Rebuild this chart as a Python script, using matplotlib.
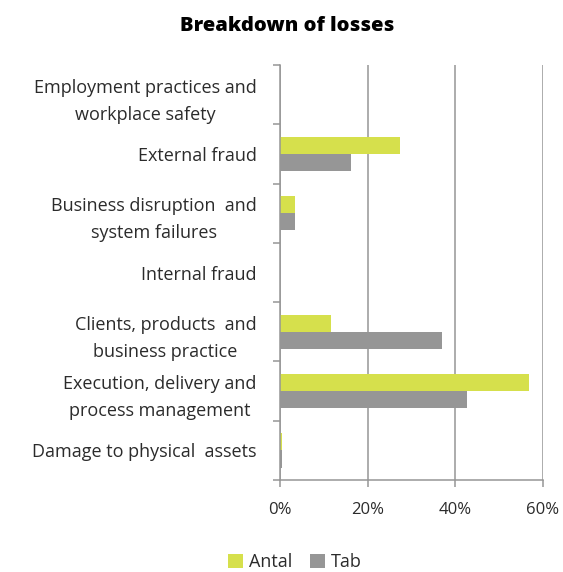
import matplotlib
matplotlib.use("Agg")
import matplotlib.pyplot as plt
import numpy as np
from matplotlib.ticker import FuncFormatter, FixedLocator, NullFormatter

# data
categories = [
    "Employment practices and\nworkplace safety",
    "External fraud",
    "Business disruption  and\nsystem failures",
    "Internal fraud",
    "Clients, products  and\nbusiness practice",
    "Execution, delivery and\nprocess management",
    "Damage to physical  assets",
]
antal = [0.0, 27.4, 3.4, 0.0, 11.6, 56.8, 0.4]
tab = [0.0, 16.2, 3.4, 0.0, 36.9, 42.7, 0.4]
xticks = [0, 20, 40, 60]

col_antal = "#d6e04c"
col_tab = "#969696"
col_axis = "#969696"
col_text = "#2b2b2b"

plt.rcParams["font.family"] = ["Open Sans", "DejaVu Sans"]

fig = plt.figure(figsize=(5.63, 5.72), dpi=100)
ax = fig.add_axes([280 / 563, 1 - 480 / 572, 263 / 563, 415 / 572])

y = np.arange(len(categories))
h = 0.29
ax.barh(y - h / 2, antal, height=h, color=col_antal, label="Antal")
ax.barh(y + h / 2, tab, height=h, color=col_tab, label="Tab")

ax.set_xlim(0, 60)
ax.set_ylim(len(categories) - 0.5, -0.5)

ax.set_xticks(xticks)
ax.xaxis.set_major_formatter(FuncFormatter(lambda v, p: f"{v:.0f}%"))
ax.tick_params(axis="x", length=5, width=1.1, color=col_axis, pad=11,
               labelsize=12, labelcolor=col_text)
ax.grid(axis="x", color=col_axis, linewidth=1.1)
ax.set_axisbelow(True)

# category labels at centre, ticks at boundaries
ax.set_yticks(y)
ax.set_yticklabels(categories, fontsize=13, color=col_text,
                   multialignment="center", linespacing=1.65)
ax.tick_params(axis="y", which="major", length=0, pad=17)
ax.yaxis.set_minor_locator(FixedLocator(np.arange(-0.5, len(categories), 1)))
ax.yaxis.set_minor_formatter(NullFormatter())
ax.tick_params(axis="y", which="minor", length=5, width=1.1, color=col_axis)

for s in ["top", "right"]:
    ax.spines[s].set_visible(False)
for s in ["left", "bottom"]:
    ax.spines[s].set_color(col_axis)
    ax.spines[s].set_linewidth(1.1)

fig.text(287 / 563, 1 - 26 / 572, "Breakdown of losses", ha="center",
         va="center", fontsize=14.5, fontweight="heavy", color="black")

fig.legend(loc="center", bbox_to_anchor=(295 / 563, 1 - 562 / 572), ncol=2,
           frameon=False, fontsize=13, handlelength=0.8, handleheight=0.8,
           handletextpad=0.35, columnspacing=1.0, labelcolor=col_text)

fig.savefig("out.png", dpi=100)
